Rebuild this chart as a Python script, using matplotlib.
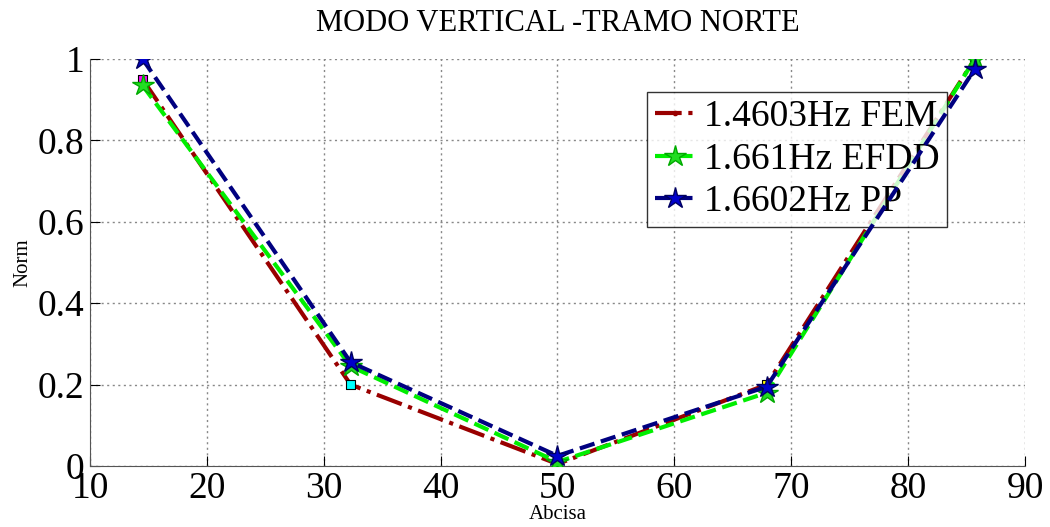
import matplotlib.pyplot as plt

plt.rcParams['font.family'] = ['Liberation Serif', 'DejaVu Serif']

abcisa = [14.5, 32.3, 50.0, 67.9, 85.7]
fem = [0.95, 0.20, 0.005, 0.20, 1.0]
efdd = [0.935, 0.245, 0.01, 0.18, 1.0]
pp = [1.0, 0.255, 0.025, 0.195, 0.975]
fem_marker_colors = ['magenta', 'cyan', 'cyan', 'yellow', 'magenta']

labels = ['1.4603Hz FEM', '1.661Hz EFDD', '1.6602Hz PP']

fig = plt.figure(figsize=(10.5, 5.27), dpi=100)
ax = fig.add_axes([0.0857, 0.1157, 0.8905, 0.7723])

ax.plot(abcisa, fem, '-.', color='#990000', lw=3, marker='.', ms=6,
        label=labels[0], zorder=3)
ax.scatter(abcisa, fem, marker='s', s=40, c=fem_marker_colors,
           edgecolors='black', linewidths=0.8, zorder=4)
ax.plot(abcisa, efdd, '--', color='#00ee00', lw=3, marker='*', ms=16,
        mfc='#22dd22', mec='#00aa00', label=labels[1], zorder=5)
ax.plot(abcisa, pp, '--', color='#000080', lw=3, marker='*', ms=16,
        mfc='#0000cc', mec='#000060', label=labels[2], zorder=6)

ax.set_xlim(10, 90)
ax.set_ylim(0, 1)
ax.set_xticks(range(10, 91, 10))
ax.set_yticks([0, 0.2, 0.4, 0.6, 0.8, 1])
ax.set_yticklabels(['0', '0.2', '0.4', '0.6', '0.8', '1'])
ax.tick_params(direction='in', length=7, labelsize=27, pad=4)

for side in ['top', 'right']:
    ax.spines[side].set_visible(False)
for side in ['left', 'bottom']:
    ax.spines[side].set_color('#555555')

ax.grid(True, linestyle=(0, (1.5, 2.5)), color='#888888', lw=1)
ax.set_axisbelow(True)

ax.set_title('MODO VERTICAL -TRAMO NORTE', fontsize=22, pad=20)
ax.set_xlabel('Abcisa', fontsize=15, labelpad=-1)
ax.set_ylabel('Norm', fontsize=15, labelpad=4)

leg = ax.legend(loc='upper left', bbox_to_anchor=(0.596, 0.919), fontsize=27,
                frameon=True, fancybox=False, edgecolor='black',
                handlelength=1.1, handletextpad=0.2, borderpad=0.2,
                labelspacing=0.22, borderaxespad=0)
leg.get_frame().set_linewidth(1)

fig.savefig('out.png', dpi=100)
